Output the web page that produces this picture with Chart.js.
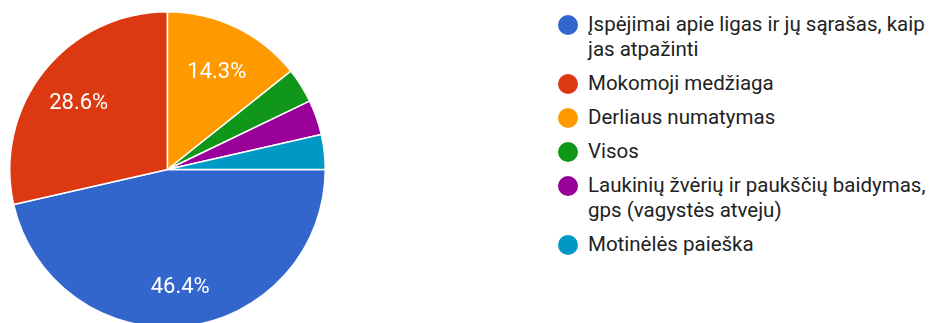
<!DOCTYPE html>
<html>
<head>
<meta charset="utf-8">
<script src="https://cdn.jsdelivr.net/npm/chart.js@4.4.1/dist/chart.umd.min.js"></script>
<style>
  html, body { margin: 0; padding: 0; background: #fff; overflow: hidden; }
  body { width: 945px; height: 323px; position: relative; font-family: Roboto, Arial, sans-serif; }
  #pieBox { position: absolute; left: 9px; top: 11px; width: 317px; height: 317px; }
  #legendBox { position: absolute; left: 558px; top: 12px; width: 387px; }
  #legendBox ul { list-style: none; margin: 0; padding: 0; }
  #legendBox li { display: flex; align-items: flex-start; margin-bottom: 9px; }
  #legendBox .dot { flex: 0 0 20px; width: 20px; height: 20px; border-radius: 50%; margin-top: 3px; margin-right: 10px; }
  #legendBox .txt { font-size: 20.5px; line-height: 25px; color: #222; width: 357px; }
</style>
</head>
<body>
<div id="pieBox"><canvas id="answersChart"></canvas></div>
<div id="legendBox"></div>
<script>
// atsakymų kategorijos ir jų skaičius
var labels = [
    'Įspėjimai apie ligas ir jų sąrašas, kaip jas atpažinti',
    'Mokomoji medžiaga',
    'Derliaus numatymas',
    'Visos',
    'Laukinių žvėrių ir paukščių baidymas, gps (vagystės atveju)',
    'Motinėlės paieška'
];
var answers = [13, 8, 4, 1, 1, 1];
var colors = ['#3366cc', '#dc3912', '#ff9900', '#109618', '#990099', '#0099c6'];

// procentų užrašai ant didesnių skilčių
var sliceLabels = {
    id: 'sliceLabels',
    afterDatasetsDraw: function(chart) {
        var ctx = chart.ctx;
        var data = chart.data.datasets[0].data;
        var total = data.reduce(function(a, b) { return a + b; }, 0);
        var meta = chart.getDatasetMeta(0);
        ctx.save();
        ctx.fillStyle = '#ffffff';
        ctx.font = '22px Roboto, Arial, sans-serif';
        ctx.textAlign = 'center';
        ctx.textBaseline = 'middle';
        meta.data.forEach(function(arc, i) {
            var pct = data[i] / total * 100;
            if (pct < 5) return;
            var p = arc.getProps(['x', 'y', 'startAngle', 'endAngle', 'outerRadius'], true);
            var mid = (p.startAngle + p.endAngle) / 2;
            var r = p.outerRadius * 0.72;
            ctx.fillText(pct.toFixed(1) + '%', p.x + Math.cos(mid) * r, p.y + Math.sin(mid) * r + 5);
        });
        ctx.restore();
    }
};

var ctx = document.getElementById('answersChart').getContext('2d');
var answersChart = new Chart(ctx, {
    type: 'pie',
    data: {
        labels: labels,
        datasets: [{
            data: answers,
            backgroundColor: colors,
            borderColor: '#ffffff',
            borderWidth: 1.5
        }]
    },
    options: {
        responsive: true,
        maintainAspectRatio: false,
        animation: false,
        rotation: 90,  // pirmoji skiltis prasideda nuo 3 val. krypties
        layout: { padding: 0 },
        plugins: {
            legend: { display: false },
            tooltip: { enabled: false }
        }
    },
    plugins: [sliceLabels]
});

// legenda kaip HTML sąrašas, kad ilgi pavadinimai lūžtų į kelias eilutes
var items = Chart.overrides.pie.plugins.legend.labels.generateLabels(answersChart);
var ul = document.createElement('ul');
items.forEach(function(item) {
    var li = document.createElement('li');
    var dot = document.createElement('span');
    dot.className = 'dot';
    dot.style.background = item.fillStyle;
    var txt = document.createElement('span');
    txt.className = 'txt';
    txt.textContent = item.text;
    li.appendChild(dot);
    li.appendChild(txt);
    ul.appendChild(li);
});
document.getElementById('legendBox').appendChild(ul);
</script>
</body>
</html>
